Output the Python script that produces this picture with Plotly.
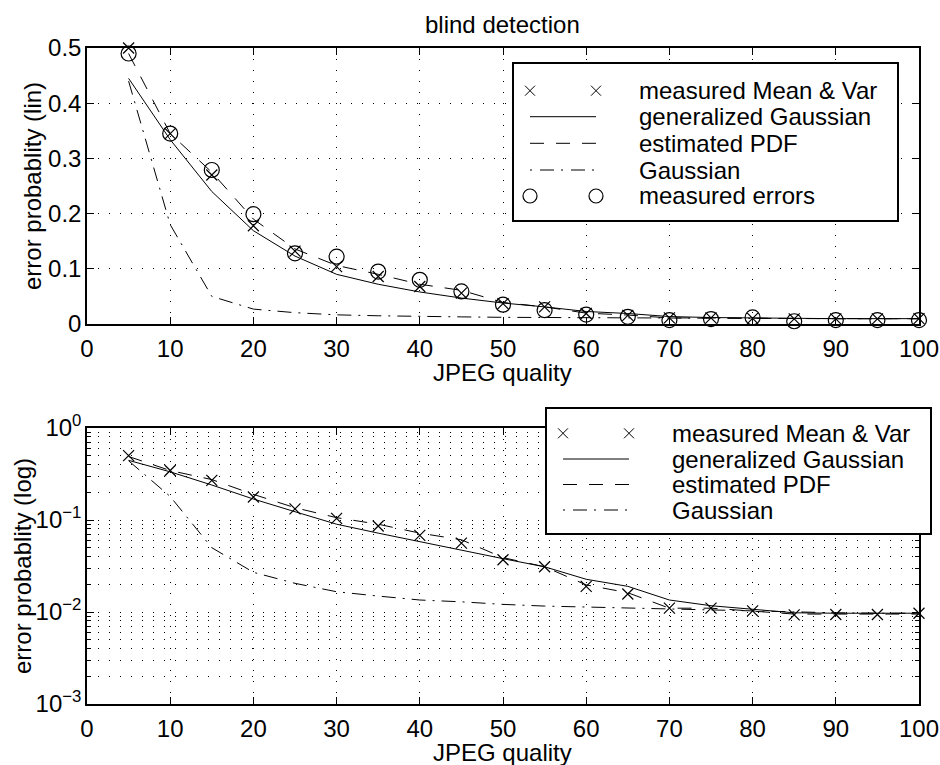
import plotly.graph_objects as go

W, H = 940, 765
FONT = "Liberation Sans, Arial, sans-serif"
FS = 24

quality = [5, 10, 15, 20, 25, 30, 35, 40, 45, 50, 55, 60, 65, 70, 75, 80, 85, 90, 95, 100]
measured_mean_var = [0.50, 0.345, 0.27, 0.178, 0.132, 0.104, 0.086, 0.068, 0.056, 0.037,
                     0.031, 0.019, 0.0157, 0.011, 0.011, 0.0103, 0.0093, 0.0094, 0.0094, 0.0097]
generalized_gaussian = [0.445, 0.334, 0.24, 0.169, 0.123, 0.090, 0.072, 0.058, 0.047, 0.038,
                        0.031, 0.0227, 0.019, 0.0135, 0.0117, 0.0107, 0.0098, 0.0097, 0.0097, 0.0097]
estimated_pdf = [0.49, 0.345, 0.275, 0.19, 0.136, 0.106, 0.090, 0.072, 0.061, 0.039,
                 0.031, 0.0197, 0.0162, 0.011, 0.011, 0.0103, 0.0095, 0.0095, 0.0095, 0.0095]
gaussian = [0.44, 0.18, 0.050, 0.027, 0.0205, 0.0166, 0.0149, 0.0135, 0.0129, 0.0121,
            0.0116, 0.0113, 0.0110, 0.0107, 0.0105, 0.0102, 0.0099, 0.0098, 0.0097, 0.0097]
measured_errors = [0.49, 0.345, 0.279, 0.199, 0.128, 0.122, 0.095, 0.080, 0.059, 0.035,
                   0.025, 0.017, 0.013, 0.007, 0.009, 0.012, 0.005, 0.007, 0.007, 0.007]

x_ticks = [0, 10, 20, 30, 40, 50, 60, 70, 80, 90, 100]
lin_ticks = [0, 0.1, 0.2, 0.3, 0.4, 0.5]
lin_labels = ["0", "0.1", "0.2", "0.3", "0.4", "0.5"]
log_ticks = [1e-3, 1e-2, 1e-1, 1]
log_labels = ["10<sup>−3</sup>", "10<sup>−2</sup>", "10<sup>−1</sup>", "10<sup>0</sup>"]

names = ["measured Mean & Var", "generalized Gaussian", "estimated PDF", "Gaussian", "measured errors"]

DASH = "14px,12px"
DASHDOT = "14px,7px,2px,7px"
GRIDDASH = "1px,10px"

# pixel geometry of the axes
AX_L, AX_R = 87, 919
TOP_T, TOP_B = 48, 324
BOT_T, BOT_B = 428, 704


def px(x):
    return x / W


def py(y):
    return 1 - y / H


fig = go.Figure()


def add_series(xa, ya, with_errors):
    fig.add_trace(go.Scatter(x=quality, y=measured_mean_var, mode="markers", xaxis=xa, yaxis=ya,
                             marker=dict(symbol="x-thin", size=11, line=dict(width=1.2, color="black")),
                             cliponaxis=False, showlegend=False, name=names[0]))
    fig.add_trace(go.Scatter(x=quality, y=generalized_gaussian, mode="lines", xaxis=xa, yaxis=ya,
                             line=dict(color="black", width=1), showlegend=False, name=names[1]))
    fig.add_trace(go.Scatter(x=quality, y=estimated_pdf, mode="lines", xaxis=xa, yaxis=ya,
                             line=dict(color="black", width=1, dash=DASH), showlegend=False, name=names[2]))
    fig.add_trace(go.Scatter(x=quality, y=gaussian, mode="lines", xaxis=xa, yaxis=ya,
                             line=dict(color="black", width=1, dash=DASHDOT), showlegend=False, name=names[3]))
    if with_errors:
        fig.add_trace(go.Scatter(x=quality, y=measured_errors, mode="markers", xaxis=xa, yaxis=ya,
                                 marker=dict(symbol="circle-open", size=15, color="black",
                                             line=dict(width=1.2, color="black")),
                                 cliponaxis=False, showlegend=False, name=names[4]))


add_series("x", "y", True)
add_series("x2", "y2", False)

axis_common = dict(showline=True, linecolor="black", linewidth=1.5, mirror="ticks", ticks="inside",
                   ticklen=7, tickwidth=1, tickcolor="black", showgrid=True, gridcolor="black",
                   gridwidth=1, griddash=GRIDDASH, zeroline=False, automargin=False,
                   tickfont=dict(family=FONT, size=FS, color="black"))

fig.update_layout(
    width=W, height=H,
    margin=dict(l=0, r=0, t=0, b=0),
    paper_bgcolor="white", plot_bgcolor="white",
    font=dict(family=FONT, size=FS, color="black"),
    xaxis=dict(domain=[px(AX_L), px(AX_R)], range=[0, 100], anchor="y", tickmode="array",
               tickvals=x_ticks, ticklabelstandoff=2, **axis_common),
    yaxis=dict(domain=[py(TOP_B), py(TOP_T)], range=[0, 0.5], anchor="x", tickmode="array",
               tickvals=lin_ticks, ticktext=lin_labels, ticklabelstandoff=-1, **axis_common),
    xaxis2=dict(domain=[px(AX_L), px(AX_R)], range=[0, 100], anchor="y2", tickmode="array",
                tickvals=x_ticks, ticklabelstandoff=2, **axis_common),
    yaxis2=dict(domain=[py(BOT_B), py(BOT_T)], type="log", range=[-3, 0], anchor="x2",
                tickmode="array", tickvals=log_ticks, ticktext=log_labels, ticklabelstandoff=-1,
                minor=dict(tickmode="linear", dtick="D1", showgrid=True, gridcolor="black",
                           gridwidth=1, griddash=GRIDDASH, ticks="inside", ticklen=4,
                           tickcolor="black"),
                **axis_common),
)

annotations = []


def text(x, y, s, xanchor="center", textangle=0):
    annotations.append(dict(x=px(x), y=py(y), xref="paper", yref="paper", text=s, showarrow=False,
                            xanchor=xanchor, yanchor="middle", textangle=textangle,
                            font=dict(family=FONT, size=FS, color="black")))


text((AX_L + AX_R) / 2, 24, "blind detection")
text((AX_L + AX_R) / 2, 372, "JPEG quality")
text((AX_L + AX_R) / 2, 752, "JPEG quality")
text(32, (TOP_T + TOP_B) / 2, "error probablity (lin)", textangle=-90)
text(22, (BOT_T + BOT_B) / 2, "error probablity (log)", textangle=-90)

shapes = []


def seg(x0, y0, x1, y1, dash="solid"):
    shapes.append(dict(type="line", xref="paper", yref="paper", x0=px(x0), y0=py(y0), x1=px(x1),
                       y1=py(y1), line=dict(color="black", width=1, dash=dash), layer="above"))


def cross(cx, cy, r=5):
    seg(cx - r, cy - r, cx + r, cy + r)
    seg(cx - r, cy + r, cx + r, cy - r)


def circ(cx, cy, r=7):
    shapes.append(dict(type="circle", xref="paper", yref="paper", x0=px(cx - r), x1=px(cx + r),
                       y0=py(cy + r), y1=py(cy - r), line=dict(color="black", width=1.2),
                       layer="above"))


def legend(box, sx0, sx1, tx, rows, labels):
    x0, y0, x1, y1 = box
    shapes.append(dict(type="rect", xref="paper", yref="paper", x0=px(x0), y0=py(y1), x1=px(x1),
                       y1=py(y0), line=dict(color="black", width=2), fillcolor="white",
                       layer="above"))
    for i, (cy, lab) in enumerate(zip(rows, labels)):
        if i == 0:
            cross(sx0, cy)
            cross(sx1, cy)
        elif i == 1:
            seg(sx0, cy, sx1, cy)
        elif i == 2:
            seg(sx0, cy, sx1, cy, DASH)
        elif i == 3:
            seg(sx0, cy, sx1, cy, "2px,8px,14px,7px")
        else:
            circ(sx0, cy)
            circ(sx1, cy)
        text(tx, cy, lab, xanchor="left")


legend((513, 63, 898, 221), 530, 596, 637, [90.7, 116.7, 143.3, 170, 196], names)
legend((546, 408, 931, 534), 563, 629, 670, [433.3, 459, 484.5, 510], names[:4])

fig.update_layout(annotations=annotations, shapes=shapes)

fig.write_html("out.html")
